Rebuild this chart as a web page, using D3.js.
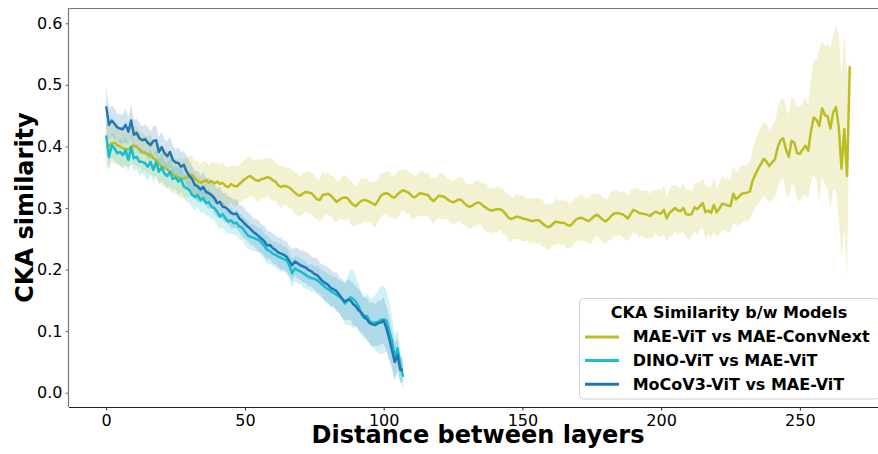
<!DOCTYPE html>
<html><head><meta charset="utf-8">
<script src="https://cdn.jsdelivr.net/npm/d3@7"></script>
<style>body{margin:0;background:#fff} svg{display:block} text{font-family:"DejaVu Sans",sans-serif}</style>
</head><body><svg id="c" width="878" height="454"></svg>
<script>
// MAE-ViT vs MAE-ConvNext (layer distance 0..268)
const maeConvMean = [
0.399,0.401,0.405,0.406,0.402,0.400,0.397,0.396,0.395,0.400,
0.402,0.399,0.395,0.391,0.389,0.387,0.386,0.381,0.378,0.371,
0.368,0.366,0.363,0.359,0.355,0.352,0.350,0.348,0.348,0.350,
0.352,0.354,0.348,0.344,0.341,0.343,0.345,0.341,0.344,0.340,
0.343,0.339,0.341,0.336,0.334,0.339,0.336,0.335,0.339,0.343,
0.347,0.350,0.352,0.348,0.345,0.344,0.347,0.348,0.350,0.349,
0.345,0.343,0.337,0.334,0.336,0.335,0.333,0.329,0.325,0.321,
0.320,0.324,0.326,0.325,0.324,0.319,0.314,0.313,0.321,0.322,
0.323,0.320,0.315,0.310,0.313,0.316,0.317,0.316,0.310,0.305,
0.303,0.308,0.312,0.313,0.312,0.310,0.307,0.305,0.312,0.320,
0.323,0.324,0.322,0.318,0.317,0.322,0.326,0.329,0.327,0.325,
0.320,0.317,0.320,0.324,0.323,0.322,0.321,0.315,0.311,0.316,
0.320,0.319,0.318,0.314,0.311,0.309,0.311,0.314,0.313,0.308,
0.304,0.302,0.304,0.307,0.309,0.307,0.303,0.300,0.297,0.296,
0.297,0.298,0.298,0.295,0.290,0.284,0.282,0.284,0.286,0.285,
0.283,0.282,0.281,0.279,0.279,0.280,0.280,0.276,0.272,0.269,
0.270,0.274,0.278,0.277,0.276,0.276,0.273,0.271,0.274,0.280,
0.283,0.284,0.283,0.280,0.279,0.283,0.287,0.289,0.285,0.281,
0.278,0.282,0.287,0.291,0.292,0.291,0.290,0.287,0.283,0.290,
0.297,0.295,0.292,0.291,0.290,0.289,0.287,0.291,0.294,0.292,
0.291,0.297,0.283,0.292,0.296,0.300,0.296,0.295,0.300,0.290,
0.289,0.290,0.301,0.298,0.303,0.308,0.293,0.296,0.292,0.305,
0.293,0.299,0.307,0.306,0.304,0.303,0.323,0.314,0.318,0.323,
0.324,0.325,0.327,0.345,0.355,0.364,0.372,0.380,0.375,0.368,
0.374,0.379,0.398,0.410,0.413,0.395,0.383,0.409,0.406,0.389,
0.388,0.395,0.401,0.393,0.425,0.447,0.443,0.433,0.462,0.451,
0.449,0.429,0.455,0.464,0.432,0.364,0.428,0.352,0.530];
const maeConvSd = [
0.038,0.032,0.030,0.034,0.029,0.031,0.033,0.030,0.028,0.032,
0.030,0.033,0.029,0.031,0.028,0.030,0.032,0.029,0.031,0.030,
0.028,0.031,0.029,0.032,0.030,0.028,0.031,0.033,0.030,0.032,
0.034,0.031,0.029,0.032,0.030,0.033,0.031,0.029,0.032,0.034,
0.030,0.032,0.035,0.031,0.033,0.030,0.034,0.032,0.030,0.033,
0.031,0.034,0.032,0.030,0.033,0.035,0.031,0.033,0.030,0.032,
0.034,0.031,0.033,0.035,0.032,0.030,0.034,0.031,0.033,0.035,
0.032,0.034,0.031,0.035,0.033,0.036,0.032,0.034,0.037,0.033,
0.035,0.032,0.036,0.034,0.031,0.035,0.037,0.033,0.036,0.034,
0.032,0.035,0.037,0.034,0.036,0.033,0.035,0.038,0.034,0.036,
0.033,0.035,0.037,0.034,0.036,0.038,0.035,0.033,0.036,0.034,
0.037,0.035,0.033,0.036,0.038,0.034,0.036,0.035,0.037,0.034,
0.036,0.038,0.035,0.033,0.036,0.034,0.037,0.035,0.038,0.036,
0.034,0.037,0.035,0.038,0.036,0.034,0.037,0.039,0.035,0.037,
0.036,0.038,0.034,0.037,0.035,0.038,0.036,0.034,0.037,0.035,
0.038,0.036,0.034,0.037,0.035,0.038,0.036,0.039,0.035,0.037,
0.036,0.034,0.038,0.035,0.037,0.036,0.039,0.035,0.037,0.036,
0.034,0.038,0.036,0.035,0.037,0.039,0.036,0.034,0.038,0.036,
0.037,0.035,0.039,0.036,0.038,0.035,0.037,0.039,0.036,0.038,
0.035,0.037,0.039,0.036,0.038,0.040,0.036,0.038,0.035,0.039,
0.037,0.040,0.036,0.038,0.041,0.037,0.039,0.036,0.040,0.038,
0.041,0.037,0.039,0.042,0.038,0.040,0.043,0.039,0.041,0.044,
0.040,0.042,0.045,0.041,0.044,0.042,0.046,0.043,0.045,0.048,
0.044,0.047,0.046,0.052,0.055,0.058,0.060,0.059,0.062,0.058,
0.061,0.060,0.064,0.066,0.065,0.070,0.068,0.072,0.070,0.075,
0.078,0.074,0.080,0.076,0.085,0.092,0.098,0.125,0.110,0.112,
0.118,0.130,0.125,0.135,0.150,0.148,0.160,0.165,0.010];

// DINO-ViT vs MAE-ViT (0..107)
const dinoMean = [
0.418,0.383,0.402,0.397,0.389,0.391,0.386,0.394,0.378,0.399,
0.381,0.383,0.375,0.375,0.373,0.367,0.375,0.362,0.375,0.359,
0.366,0.356,0.352,0.359,0.347,0.350,0.343,0.347,0.335,0.332,
0.329,0.321,0.318,0.321,0.313,0.316,0.308,0.310,0.302,0.300,
0.294,0.286,0.290,0.283,0.278,0.280,0.275,0.276,0.270,0.268,
0.262,0.256,0.253,0.252,0.250,0.248,0.244,0.238,0.232,0.230,
0.226,0.224,0.221,0.219,0.217,0.215,0.207,0.194,0.202,0.199,
0.197,0.194,0.191,0.188,0.186,0.185,0.183,0.179,0.175,0.171,
0.168,0.165,0.162,0.159,0.156,0.152,0.145,0.150,0.155,0.152,
0.148,0.140,0.127,0.121,0.125,0.116,0.113,0.114,0.115,0.118,
0.119,0.117,0.100,0.085,0.058,0.072,0.045,0.026];
const dinoSd = [
0.030,0.022,0.020,0.021,0.019,0.022,0.020,0.024,0.019,0.023,
0.021,0.020,0.022,0.019,0.021,0.023,0.020,0.022,0.020,0.021,
0.022,0.020,0.021,0.023,0.020,0.019,0.022,0.021,0.019,0.022,
0.021,0.020,0.022,0.019,0.021,0.023,0.020,0.022,0.021,0.019,
0.022,0.020,0.021,0.023,0.020,0.022,0.019,0.021,0.022,0.020,
0.021,0.023,0.020,0.022,0.021,0.019,0.022,0.020,0.023,0.021,
0.020,0.022,0.021,0.023,0.020,0.022,0.021,0.023,0.020,0.022,
0.021,0.023,0.022,0.020,0.023,0.021,0.024,0.022,0.023,0.025,
0.024,0.026,0.025,0.028,0.026,0.030,0.033,0.040,0.045,0.048,
0.040,0.036,0.034,0.033,0.036,0.038,0.040,0.045,0.050,0.055,
0.055,0.050,0.046,0.040,0.035,0.030,0.025,0.020];

// MoCoV3-ViT vs MAE-ViT (0..107)
const mocoMean = [
0.465,0.435,0.442,0.437,0.431,0.429,0.428,0.435,0.424,0.442,
0.419,0.422,0.413,0.410,0.412,0.406,0.402,0.409,0.410,0.391,
0.399,0.389,0.384,0.391,0.378,0.374,0.373,0.367,0.370,0.359,
0.352,0.347,0.337,0.335,0.330,0.334,0.326,0.324,0.321,0.316,
0.308,0.310,0.302,0.301,0.297,0.292,0.290,0.291,0.283,0.279,
0.274,0.270,0.266,0.261,0.258,0.254,0.250,0.246,0.239,0.240,
0.235,0.232,0.228,0.226,0.224,0.221,0.214,0.207,0.213,0.210,
0.207,0.205,0.203,0.199,0.197,0.193,0.191,0.186,0.181,0.178,
0.175,0.170,0.168,0.165,0.159,0.153,0.148,0.151,0.150,0.144,
0.140,0.134,0.130,0.124,0.119,0.113,0.111,0.110,0.113,0.114,
0.117,0.105,0.088,0.069,0.050,0.061,0.037,0.037];
const mocoSd = [
0.033,0.026,0.024,0.025,0.022,0.024,0.023,0.028,0.022,0.027,
0.024,0.023,0.025,0.022,0.024,0.026,0.022,0.025,0.023,0.024,
0.026,0.022,0.024,0.025,0.023,0.022,0.026,0.024,0.022,0.025,
0.024,0.022,0.023,0.025,0.022,0.024,0.023,0.025,0.022,0.024,
0.023,0.025,0.022,0.024,0.022,0.025,0.023,0.024,0.022,0.025,
0.024,0.023,0.025,0.022,0.024,0.026,0.023,0.025,0.024,0.022,
0.025,0.023,0.024,0.026,0.023,0.025,0.024,0.026,0.023,0.025,
0.024,0.026,0.025,0.027,0.024,0.026,0.028,0.025,0.027,0.029,
0.028,0.030,0.027,0.031,0.029,0.032,0.030,0.033,0.031,0.034,
0.032,0.034,0.033,0.031,0.035,0.033,0.036,0.034,0.037,0.035,
0.038,0.036,0.034,0.032,0.030,0.028,0.022,0.018];

const seriesLabels = ["MAE-ViT vs MAE-ConvNext","DINO-ViT vs MAE-ViT","MoCoV3-ViT vs MAE-ViT"];
const seriesColors = ["#bcbd22","#17becf","#1f77b4"];
const xTicks = [0,50,100,150,200,250];
const yTicks = [0.0,0.1,0.2,0.3,0.4,0.5,0.6];
const legendTitle = "CKA Similarity b/w Models";
const xLabel = "Distance between layers";
const yLabel = "CKA similarity";

const series = [
  {mean: maeConvMean, sd: maeConvSd},
  {mean: dinoMean, sd: dinoSd},
  {mean: mocoMean, sd: mocoSd}
];

const svg = d3.select("#c");
const L = 69, T = 8, B = 407, R = 887;
const x = d3.scaleLinear().domain([-13.4, 281.4]).range([L, R]);
const y = d3.scaleLinear().domain([-0.0232, 0.6248]).range([B, T]);

svg.append("defs").append("clipPath").attr("id","clip")
  .append("rect").attr("x",L).attr("y",T).attr("width",R-L).attr("height",B-T);

const plot = svg.append("g").attr("clip-path","url(#clip)");

// bands first (below all lines)
series.forEach((s,k)=>{
  const area = d3.area()
    .x((d,i)=>x(i))
    .y0((d,i)=>y(s.mean[i]-s.sd[i]))
    .y1((d,i)=>y(s.mean[i]+s.sd[i]));
  plot.append("path").datum(s.mean).attr("d",area)
    .attr("fill",seriesColors[k]).attr("fill-opacity",0.2).attr("stroke","none");
});
series.forEach((s,k)=>{
  const line = d3.line().x((d,i)=>x(i)).y(d=>y(d));
  plot.append("path").datum(s.mean).attr("d",line)
    .attr("fill","none").attr("stroke",seriesColors[k]).attr("stroke-width",2.5)
    .attr("stroke-linejoin","round").attr("stroke-linecap","butt");
});

// axes
const xa = svg.append("g").attr("transform",`translate(0,${B})`)
  .call(d3.axisBottom(x).tickValues(xTicks).tickFormat(d3.format("d")).tickSize(3.5).tickPadding(4));
const ya = svg.append("g").attr("transform",`translate(${L},0)`)
  .call(d3.axisLeft(y).tickValues(yTicks).tickFormat(d3.format(".1f")).tickSize(3.5).tickPadding(3));
[xa,ya].forEach(g=>{
  g.select(".domain").remove();
  g.selectAll("text").attr("font-size",16).attr("fill","#000").attr("font-family","DejaVu Sans");
});
xa.selectAll(".tick line").attr("stroke","#222");
ya.selectAll(".tick line").attr("stroke","#666");

// spines
svg.append("line").attr("x1",L).attr("x2",R).attr("y1",B+0.5).attr("y2",B+0.5).attr("stroke","#222").attr("stroke-width",1.2);
svg.append("line").attr("x1",L).attr("x2",R).attr("y1",T+0.5).attr("y2",T+0.5).attr("stroke","#777").attr("stroke-width",1.2);
svg.append("line").attr("x1",L-0.5).attr("x2",L-0.5).attr("y1",T).attr("y2",B).attr("stroke","#777").attr("stroke-width",1.2);

// axis labels
svg.append("text").attr("x",478).attr("y",443).attr("text-anchor","middle")
  .attr("font-size",24).attr("font-weight","bold").text(xLabel);
svg.append("text").attr("transform","translate(33,207.5) rotate(-90)").attr("text-anchor","middle")
  .attr("font-size",24).attr("font-weight","bold").text(yLabel);

// legend
const lg = svg.append("g");
lg.append("rect").attr("x",579.5).attr("y",298.5).attr("width",300).attr("height",100.5).attr("rx",4)
  .attr("fill","#fff").attr("fill-opacity",0.8).attr("stroke","#d0d0d0").attr("stroke-width",1);
lg.append("text").attr("x",729).attr("y",318).attr("text-anchor","middle")
  .attr("font-size",16).attr("font-weight","bold").text(legendTitle);
const rowY = [337, 360.5, 384.3];
seriesLabels.forEach((lab,k)=>{
  lg.append("line").attr("x1",585).attr("x2",619).attr("y1",rowY[k]).attr("y2",rowY[k])
    .attr("stroke",seriesColors[k]).attr("stroke-width",3);
  lg.append("text").attr("x",632.7).attr("y",rowY[k]+5.2)
    .attr("font-size",16).attr("font-weight","bold").text(lab);
});
</script></body></html>
